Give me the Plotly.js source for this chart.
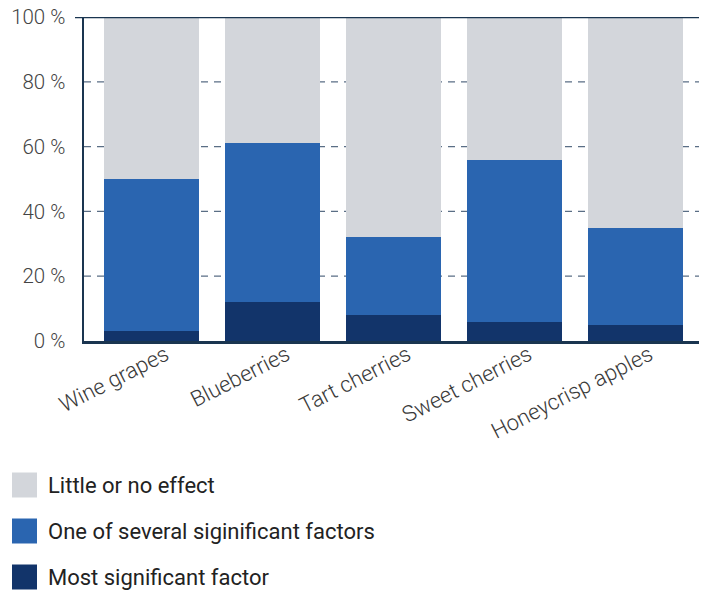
<!DOCTYPE html>
<html><head><meta charset="utf-8">
<script src="https://cdn.plot.ly/plotly-3.0.1.min.js"></script>
<style>body{margin:0;background:#fff}#chart{width:705px;height:591px}</style>
</head><body><div id="chart"></div>
<script>
const categories = ["Wine grapes", "Blueberries", "Tart cherries", "Sweet cherries", "Honeycrisp apples"];
const mostSignificant = [3, 12, 8, 6, 5];
const oneOfSeveral = [47, 49, 24, 50, 30];
const littleOrNone = [50, 39, 68, 44, 65];
const seriesNames = ["Most significant factor", "One of several siginificant factors", "Little or no effect"];
const seriesColors = ["#12346a", "#2a65b0", "#d3d6db"];
const yTicks = [0, 20, 40, 60, 80, 100];
const yTickText = ["0 %", "20 %", "40 %", "60 %", "80 %", "100 %"];

const idx = categories.map((_, i) => i);
const series = [mostSignificant, oneOfSeveral, littleOrNone];
const traces = series.map((vals, k) => ({
  type: "bar", x: idx, y: vals, name: seriesNames[k],
  marker: {color: seriesColors[k], line: {width: 0}},
  hoverinfo: "skip", showlegend: false
}));

const lightFont = "'Roboto Light', Roboto, sans-serif";
// plot area: left 84, right 699 (615 px), top 17, bottom 341 (324 px)
const shapes = [];
yTicks.filter(v => v > 0 && v < 100).forEach(v => {
  shapes.push({type: "line", xref: "paper", yref: "y", x0: 0, x1: 1, y0: v, y1: v,
    line: {color: "#5a6e85", width: 1.2, dash: "7px,6px"}, layer: "below"});
});
shapes.push({type: "line", xref: "paper", yref: "y", x0: -9 / 615, x1: 1, y0: 100, y1: 100,
  line: {color: "#1a3550", width: 2.5}, layer: "above"});
const annotations = [];
const legendOrder = [2, 1, 0];
legendOrder.forEach((k, j) => {
  const yc = 485 + j * 46;
  shapes.push({type: "rect", xref: "paper", yref: "paper",
    x0: (12 - 84) / 615, x1: (37 - 84) / 615,
    y0: (341 - (yc + 12.5)) / 324, y1: (341 - (yc - 12.5)) / 324,
    fillcolor: seriesColors[k], line: {width: 0}});
  annotations.push({xref: "paper", yref: "paper", x: (46 - 84) / 615, y: (341 - yc) / 324,
    xanchor: "left", yanchor: "middle", showarrow: false, text: seriesNames[k],
    font: {family: "Roboto, sans-serif", size: 22, color: "#222"}});
});

const layout = {
  width: 705, height: 591,
  margin: {l: 84, r: 6, t: 17, b: 250},
  barmode: "stack", bargap: 0.215,
  paper_bgcolor: "#fff", plot_bgcolor: "rgba(0,0,0,0)",
  showlegend: false,
  font: {family: "Roboto, sans-serif"},
  xaxis: {
    range: [-0.558, 4.525], tickmode: "array", tickvals: idx, ticktext: categories, tickangle: -27,
    showgrid: false, zeroline: false, showline: true, linecolor: "#1a3550", linewidth: 2.5,
    ticks: "", ticklabelshift: 14, ticklabelstandoff: -10,
    tickfont: {family: lightFont, size: 22, weight: 300, color: "#3a3a3a"}, fixedrange: true
  },
  yaxis: {
    range: [0, 100], tickmode: "array", tickvals: yTicks, ticktext: yTickText,
    showgrid: false, zeroline: false, showline: true, linecolor: "#1a3550", linewidth: 2.5,
    ticks: "", ticklabelstandoff: 12,
    tickfont: {family: lightFont, size: 20.5, weight: 300, color: "#444"}, fixedrange: true
  },
  shapes: shapes, annotations: annotations
};
Plotly.newPlot("chart", traces, layout, {displayModeBar: false, staticPlot: true});
</script></body></html>
